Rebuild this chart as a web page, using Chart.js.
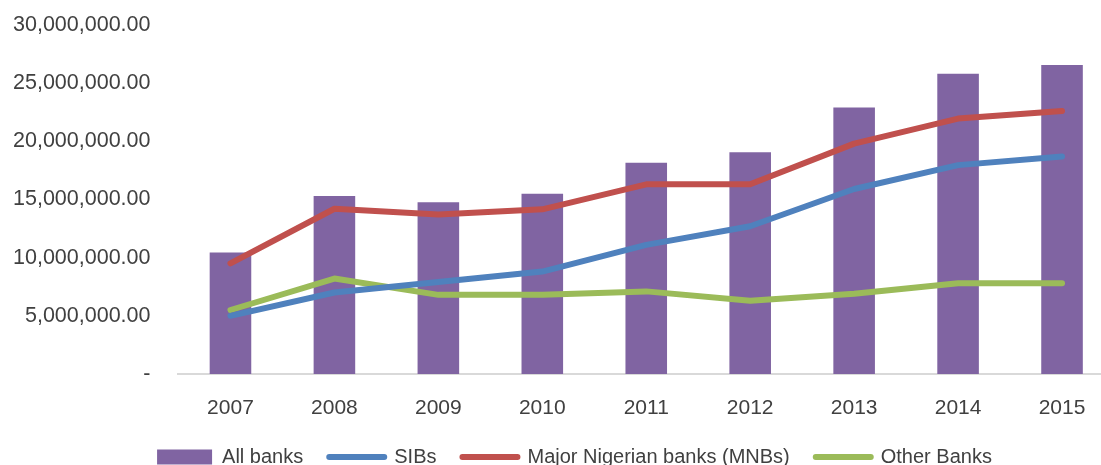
<!DOCTYPE html>
<html>
<head>
<meta charset="utf-8">
<script src="https://cdn.jsdelivr.net/npm/chart.js@4.4.0/dist/chart.umd.min.js"></script>
<style>
  html, body { margin: 0; padding: 0; background: #fff; overflow: hidden; }
  /* the reference is a crop of a larger chart, so the canvas sticks out a bit on every side */
  #wrap { width: 1179px; height: 493px; position: relative; margin-left: -15px; margin-top: -16px; }
</style>
</head>
<body>
<div id="wrap"><canvas id="myChart"></canvas></div>
<script>
// data
var years = ['2007', '2008', '2009', '2010', '2011', '2012', '2013', '2014', '2015']
var allBanks = [10450000, 15300000, 14750000, 15500000, 18150000, 19050000, 22900000, 25800000, 26550000]
var sibs = [5000000, 7000000, 7900000, 8800000, 11100000, 12700000, 15900000, 17950000, 18700000]
var mnbs = [9500000, 14200000, 13700000, 14150000, 16300000, 16300000, 19800000, 21950000, 22600000]
var otherBanks = [5500000, 8200000, 6800000, 6800000, 7100000, 6300000, 6900000, 7800000, 7800000]

var purple = '#8064A2'
var blue = '#4F81BD'
var red = '#C0504D'
var green = '#9BBB59'
var textColor = '#404040'
var fontFamily = "'Liberation Sans', Arial, sans-serif"

function lineSet(label, values, color) {
    return {
        type: 'line',
        label: label,
        data: values,
        borderColor: color,
        backgroundColor: color,
        borderWidth: 6,
        pointRadius: 0,
        pointHoverRadius: 0,
        tension: 0,
        borderCapStyle: 'round',
        borderJoinStyle: 'round',
        order: 1
    }
}

var ctx = document.getElementById('myChart').getContext('2d')
var chart = new Chart(ctx, {
    data: {
        labels: years,
        datasets: [
            {
                type: 'bar',
                label: 'All banks',
                data: allBanks,
                backgroundColor: purple,
                categoryPercentage: 1,
                barPercentage: 0.4,
                order: 2
            },
            lineSet('SIBs', sibs, blue),
            lineSet('Major Nigerian banks (MNBs)', mnbs, red),
            lineSet('Other Banks', otherBanks, green)
        ]
    },
    options: {
        responsive: true,
        maintainAspectRatio: false,
        animation: false,
        layout: { padding: 0 },
        plugins: {
            tooltip: { enabled: false },
            legend: {
                position: 'bottom',
                labels: {
                    usePointStyle: true,
                    pointStyleWidth: 55,
                    boxWidth: 55,
                    boxHeight: 15,
                    padding: 26,
                    color: textColor,
                    font: { family: fontFamily, size: 20 },
                    generateLabels: function (chart) {
                        return chart.data.datasets.map(function (ds, i) {
                            var isBar = ds.type === 'bar'
                            return {
                                text: ds.label,
                                datasetIndex: i,
                                pointStyle: isBar ? 'rect' : 'line',
                                fillStyle: ds.backgroundColor,
                                strokeStyle: isBar ? ds.backgroundColor : ds.borderColor,
                                lineWidth: isBar ? 0 : 6,
                                lineCap: 'round',
                                fontColor: textColor,
                                hidden: false
                            }
                        })
                    }
                }
            }
        },
        scales: {
            x: {
                grid: { display: false, drawTicks: false },
                border: { display: true, color: '#d9d9d9', width: 2 },
                ticks: { padding: 22, color: textColor, font: { family: fontFamily, size: 21 } },
                afterFit: function (scale) { scale.height = 47 }
            },
            y: {
                min: 0,
                max: 30000000,
                grid: { display: false, drawTicks: false },
                border: { display: false },
                ticks: {
                    stepSize: 5000000,
                    padding: 28,
                    color: textColor,
                    font: { family: fontFamily, size: 21.5 },
                    callback: function (v) {
                        if (v === 0) return '-'
                        return v.toLocaleString('en-US', { minimumFractionDigits: 2, maximumFractionDigits: 2 })
                    }
                }
            },
            // empty right-hand axis, only keeps the plot's right edge where the reference crops it
            yRight: {
                position: 'right',
                grid: { display: false, drawTicks: false },
                border: { display: false },
                ticks: { display: false },
                afterFit: function (scale) { scale.width = 50 }
            }
        }
    }
})
</script>
</body>
</html>
